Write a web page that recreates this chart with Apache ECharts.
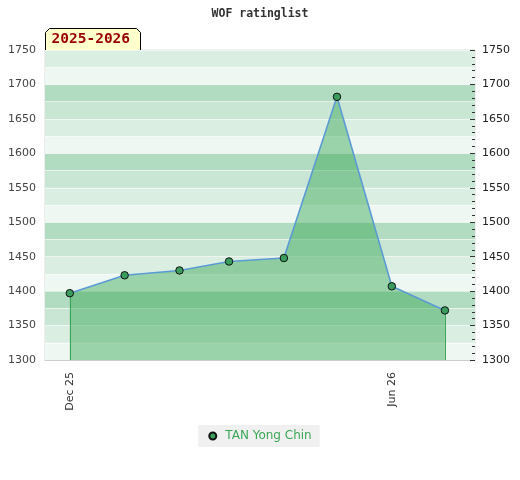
<!DOCTYPE html>
<html>
<head>
<meta charset="utf-8">
<script src="https://cdn.jsdelivr.net/npm/echarts@6/dist/echarts.min.js"></script>
<style>html,body{margin:0;padding:0;background:#fff}#c{width:520px;height:480px}</style>
</head>
<body>
<div id="c"></div>
<script>
// ---- data ----
const chartTitle = 'WOF ratinglist';
const seasonLabel = '2025-2026';
const playerName = 'TAN Yong Chin';
const listDates = ['2025-12-01','2026-01-01','2026-02-01','2026-03-01','2026-04-01','2026-05-01','2026-06-01','2026-07-01'];
const ratings = [1397, 1423, 1430, 1443, 1448, 1682, 1407, 1372];
const tickDates = ['2025-12-01','2026-06-01'];
const tickLabels = ['Dec 25','Jun 26'];
const xRange = ['2025-11-17','2026-07-18'];
const yMin = 1300, yMax = 1750, yStep = 50;

function ts(s){ const p = s.split('-').map(Number); return Date.UTC(p[0], p[1]-1, p[2]); }
const points = listDates.map((d,i)=>[ts(d), ratings[i]]);
const tickTs = tickDates.map(ts);
const first = points[0], last = points[points.length-1];

const chart = echarts.init(document.getElementById('c'));
const fnt = 'DejaVu Sans';
chart.setOption({
  animation: false,
  backgroundColor: '#fff',
  title: {
    text: chartTitle, left: 'center', top: 3,
    textStyle: {fontFamily: 'DejaVu Sans Mono', fontWeight: 'bold', fontSize: 11.5, color: '#333'}
  },
  grid: {left: 45, right: 45, top: 50, bottom: 120, show: true, borderColor: '#ddd', borderWidth: 1, backgroundColor: 'transparent'},
  legend: {
    left: 'center', top: 425, backgroundColor: '#f0f0f0', padding: [5, 8, 5, 10],
    itemWidth: 7, itemHeight: 7, itemGap: 10, icon: 'circle',
    textStyle: {fontFamily: fnt, fontSize: 12, color: '#3aa757', padding: [0,0,0,4]},
    data: [playerName]
  },
  xAxis: {
    type: 'value', min: ts(xRange[0]), max: ts(xRange[1]),
    axisLine: {show: true, lineStyle: {color: '#ccc'}},
    axisTick: {show: false},
    splitLine: {show: false},
    axisLabel: {
      customValues: tickTs, rotate: 90, margin: 12,
      fontFamily: fnt, fontSize: 11, color: '#333',
      formatter: v => { const i = tickTs.indexOf(v); return i >= 0 ? tickLabels[i] : ''; }
    }
  },
  yAxis: [
    {
      type: 'value', min: yMin, max: yMax, interval: yStep, position: 'left',
      axisLine: {show: false}, axisTick: {show: false},
      splitLine: {show: false},
      axisLabel: {fontFamily: fnt, fontSize: 11, color: '#444', margin: 9, formatter: v => String(v)}
    },
    {
      type: 'value', min: yMin, max: yMax, interval: yStep, position: 'right',
      axisLine: {show: false},
      axisTick: {show: true, inside: true, length: 5, lineStyle: {color: '#333'}},
      minorTick: {show: true, splitNumber: 5, length: 3, lineStyle: {color: '#333'}},
      splitLine: {show: false},
      axisLabel: {fontFamily: fnt, fontSize: 11, color: '#222', margin: 7, formatter: v => String(v)}
    },
    {
      type: 'value', min: yMin, max: yMax, interval: yStep / 2, position: 'left',
      axisLine: {show: false}, axisTick: {show: false}, axisLabel: {show: false},
      splitLine: {show: true, lineStyle: {color: 'rgba(255,255,255,0.55)', width: 1}},
      splitArea: {show: true, areaStyle: {color: ['#eef7f1', '#dbeee2', '#c8e6d3', '#b2dcc2']}}
    }
  ],
  series: [{
    name: playerName, type: 'line', data: points, z: 5,
    symbol: 'circle', symbolSize: 7.5,
    itemStyle: {color: '#3a9d5d', borderColor: '#111', borderWidth: 1},
    lineStyle: {color: '#5b9bd5', width: 1.6},
    areaStyle: {color: 'rgba(51,163,83,0.45)', opacity: 1},
    markLine: {
      silent: true, symbol: 'none', label: {show: false},
      lineStyle: {color: '#3aa757', width: 1, type: 'solid'},
      data: [
        [{coord: [first[0], first[1]]}, {coord: [first[0], yMin]}],
        [{coord: [last[0], last[1]]}, {coord: [last[0], yMin]}]
      ]
    }
  }],
  graphic: [{
    type: 'group', left: 45, top: 28,
    children: [
      {type: 'polygon', shape: {points: [[0,4],[4,0],[91,0],[95,4],[95,22],[0,22]]},
       style: {fill: '#ffffcc', stroke: '#000', lineWidth: 1}},
      {type: 'text', left: 6, top: 3,
       style: {text: seasonLabel, fill: '#990000', font: 'bold 14.5px "DejaVu Sans Mono"'}}
    ]
  }]
});
</script>
</body>
</html>
